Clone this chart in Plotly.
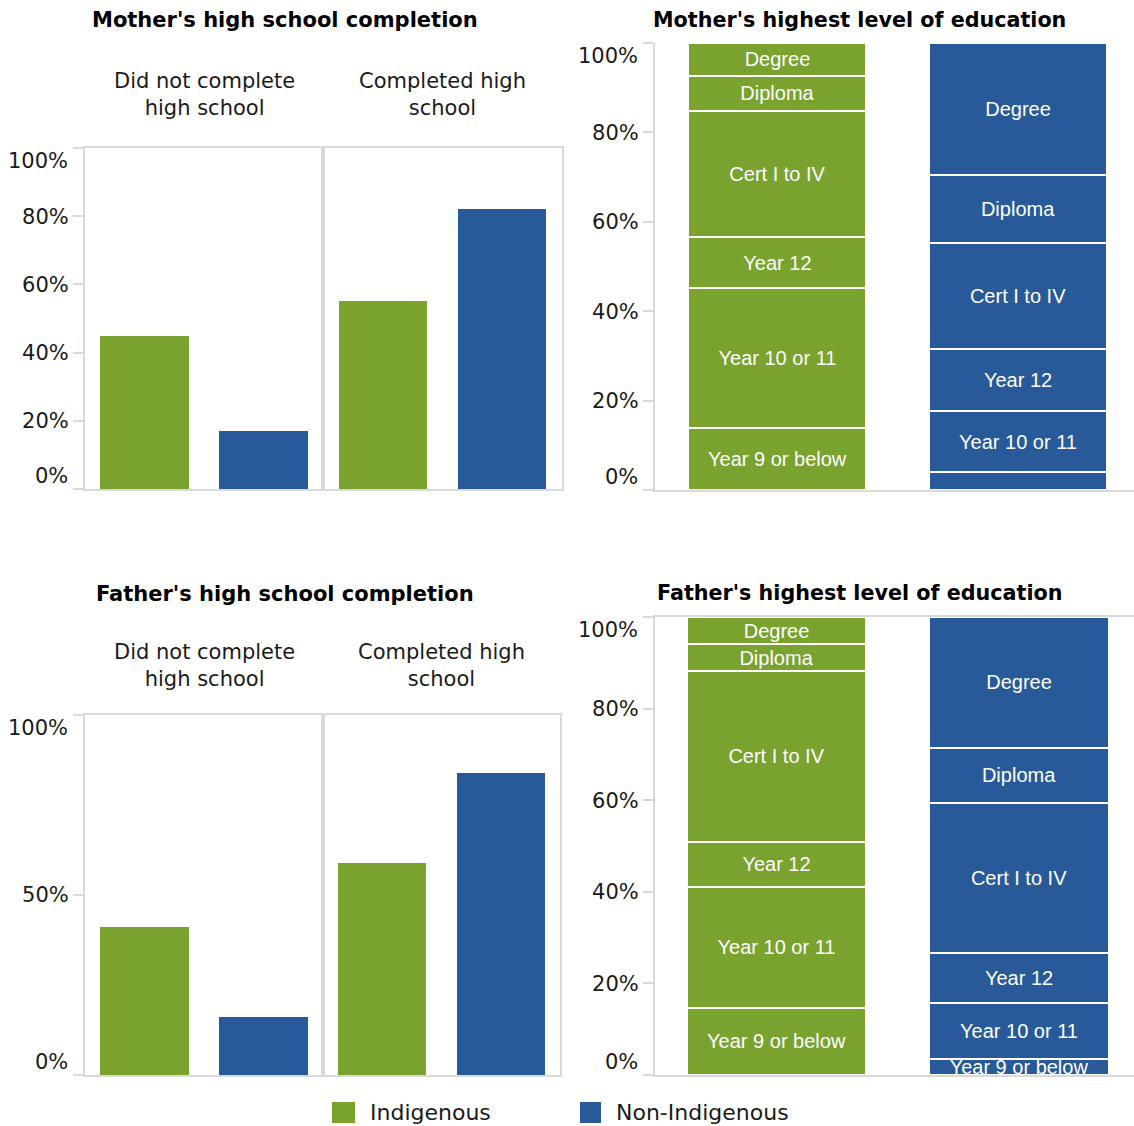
import plotly.graph_objects as go

W, H = 1134, 1126

# ---- data -------------------------------------------------------------
GROUPS = ["Indigenous", "Non-Indigenous"]
GROUP_COLORS = ["#79a22f", "#285a99"]

COMPLETION_FACETS = ["Did not complete<br>high school", "Completed high<br>school"]
# share (%) of each group, per facet: [did not complete, completed]
MOTHER_COMPLETION_INDIG = [45, 55]
MOTHER_COMPLETION_NONINDIG = [17, 82]
FATHER_COMPLETION_INDIG = [41, 59]
FATHER_COMPLETION_NONINDIG = [16, 84]

LEVELS = ["Year 9 or below", "Year 10 or 11", "Year 12", "Cert I to IV", "Diploma", "Degree"]
MOTHER_LEVEL_INDIG = [13.8, 31.4, 11.3, 28.4, 7.8, 7.3]
MOTHER_LEVEL_NONINDIG = [4.0, 13.7, 13.8, 23.8, 15.1, 29.6]
FATHER_LEVEL_INDIG = [14.7, 26.4, 9.8, 37.3, 5.9, 5.9]
FATHER_LEVEL_NONINDIG = [3.6, 12.2, 10.9, 32.6, 12.2, 28.5]

# segment captions (blank where the segment is too thin to carry one)
MOTHER_TEXT_INDIG = LEVELS
MOTHER_TEXT_NONINDIG = [""] + LEVELS[1:]
FATHER_TEXT_INDIG = LEVELS
FATHER_TEXT_NONINDIG = LEVELS

COMPLETION_TICKS = [[0, 20, 40, 60, 80, 100], [0, 50, 100]]
LEVEL_TICKS = [0, 20, 40, 60, 80, 100]

# ---- styling helpers ---------------------------------------------------
LINE = "#d9d9d9"
TXT = "#1a1a1a"
TICK_FONT = dict(family="DejaVu Sans", size=21, color=TXT)
BAR_FONT = dict(family="Liberation Sans, Arial", size=20, color="white")
TICKLEN = 10
RIGHT_AXIS_PX = 655


def px_x(p):
    return p / W


def px_y(p):
    return 1 - p / H


def y_axis(top, bottom, ticks, labels=True, mirror=False):
    mids = ticks[1:-1]
    return dict(
        domain=[px_y(bottom), px_y(top)], range=[0, 100],
        showline=True, linecolor=LINE, linewidth=2, mirror=mirror,
        showgrid=False, zeroline=False,
        ticks="outside" if labels else "", ticklen=TICKLEN, tickcolor=LINE, tickwidth=2,
        tickvals=ticks if labels else [],
        ticktext=[""] + [f"{t}%" for t in mids] + [""] if labels else [],
        tickfont=TICK_FONT, showticklabels=labels, fixedrange=True,
    )


def x_axis(left, right, rng, anchor, mirror=False):
    return dict(
        domain=[px_x(left), px_x(right)], type="category", range=rng,
        showline=True, linecolor=LINE, linewidth=2, mirror=mirror,
        showgrid=False, zeroline=False, ticks="", showticklabels=False,
        anchor=anchor, fixedrange=True,
    )


fig = go.Figure()
annotations = []


def end_labels(yref, left_px, ticks):
    # the 0% and 100% labels sit just inside the plot area
    for val, shift in ((ticks[0], 13), (ticks[-1], -13)):
        annotations.append(dict(
            x=px_x(left_px - TICKLEN - 5), xref="paper", xanchor="right",
            y=val, yref=yref, yanchor="middle", yshift=shift,
            text=f"{val}%", showarrow=False, font=TICK_FONT))


def completion_panel(indig, nonindig, axes, ticks, head_y, title, title_y, facet_px):
    for i, (xa, ya) in enumerate(axes):
        for g, vals, col in ((GROUPS[0], indig, GROUP_COLORS[0]), (GROUPS[1], nonindig, GROUP_COLORS[1])):
            fig.add_trace(go.Bar(
                x=[g], y=[vals[i]], name=g, marker=dict(color=col, line=dict(width=0)),
                xaxis=xa, yaxis=ya,
                hovertemplate=f"{COMPLETION_FACETS[i].replace('<br>', ' ')}<br>{g}: %{{y}}%<extra></extra>"))
        left, right = facet_px[i]
        annotations.append(dict(
            x=px_x((left + right) / 2), xref="paper", y=px_y(head_y), yref="paper",
            xanchor="center", yanchor="middle", text=COMPLETION_FACETS[i], showarrow=False,
            font=dict(family="DejaVu Sans", size=21, color=TXT)))
    annotations.append(dict(
        x=px_x(285), xref="paper", y=px_y(title_y), yref="paper", xanchor="center", yanchor="middle",
        text=f"<b>{title}</b>", showarrow=False, font=dict(family="DejaVu Sans", size=21, color="black")))
    end_labels(axes[0][1], facet_px[0][0], ticks)


def level_panel(indig, nonindig, text_i, text_n, xa, ya, title, title_y):
    for k, lvl in enumerate(LEVELS):
        fig.add_trace(go.Bar(
            x=GROUPS, y=[indig[k], nonindig[k]], name=lvl,
            marker=dict(color=GROUP_COLORS, line=dict(color="white", width=2)),
            text=[text_i[k], text_n[k]], textposition="inside", insidetextanchor="middle",
            textangle=0, constraintext="none", textfont=BAR_FONT, insidetextfont=BAR_FONT,
            xaxis=xa, yaxis=ya,
            hovertemplate="%{x}<br>" + lvl + ": %{y}%<extra></extra>"))
    annotations.append(dict(
        x=px_x(859), xref="paper", y=px_y(title_y), yref="paper", xanchor="center", yanchor="middle",
        text=f"<b>{title}</b>", showarrow=False, font=dict(family="DejaVu Sans", size=20.7, color="black")))
    end_labels(ya, RIGHT_AXIS_PX, LEVEL_TICKS)


# Mother's high school completion (top left)
completion_panel(MOTHER_COMPLETION_INDIG, MOTHER_COMPLETION_NONINDIG,
                 [("x", "y"), ("x2", "y2")], COMPLETION_TICKS[0], 94.5,
                 "Mother's high school completion", 20, [(85, 323), (323, 562)])
# Mother's highest level of education (top right)
level_panel(MOTHER_LEVEL_INDIG, MOTHER_LEVEL_NONINDIG, MOTHER_TEXT_INDIG, MOTHER_TEXT_NONINDIG,
            "x3", "y3", "Mother's highest level of education", 20)
# Father's high school completion (bottom left)
completion_panel(FATHER_COMPLETION_INDIG, FATHER_COMPLETION_NONINDIG,
                 [("x4", "y4"), ("x5", "y5")], COMPLETION_TICKS[1], 665,
                 "Father's high school completion", 594, [(85, 323), (323, 560)])
# Father's highest level of education (bottom right)
level_panel(FATHER_LEVEL_INDIG, FATHER_LEVEL_NONINDIG, FATHER_TEXT_INDIG, FATHER_TEXT_NONINDIG,
            "x6", "y6", "Father's highest level of education", 593)

# legend drawn as swatches + labels along the bottom
shapes = []
for (x0, x1, tx), g, col in zip(((332, 355, 368), (580, 601, 614)), GROUPS, GROUP_COLORS):
    shapes.append(dict(type="rect", xref="paper", yref="paper", x0=px_x(x0), x1=px_x(x1),
                       y0=px_y(1123), y1=px_y(1102), fillcolor=col, line=dict(width=0)))
    annotations.append(dict(x=px_x(tx), xref="paper", y=px_y(1112.5), yref="paper",
                            xanchor="left", yanchor="middle", text=g, showarrow=False,
                            font=dict(family="DejaVu Sans", size=22, color=TXT)))

fig.update_layout(
    width=W, height=H, margin=dict(l=0, r=0, t=0, b=0),
    paper_bgcolor="white", plot_bgcolor="white",
    barmode="stack", bargap=0.26, showlegend=False,
    xaxis=x_axis(85, 323, [-0.5, 1.5], "y", mirror=True),
    yaxis=y_axis(148, 489, COMPLETION_TICKS[0], mirror=True),
    xaxis2=x_axis(323, 562, [-0.5, 1.5], "y2", mirror=True),
    yaxis2={**y_axis(148, 489, COMPLETION_TICKS[0], labels=False, mirror=True), "anchor": "x2"},
    xaxis3=x_axis(RIGHT_AXIS_PX, 1134, [-0.509, 1.482], "y3"),
    yaxis3={**y_axis(43, 490, LEVEL_TICKS), "anchor": "x3"},
    xaxis4=x_axis(85, 323, [-0.5, 1.5], "y4", mirror=True),
    yaxis4={**y_axis(715, 1075, COMPLETION_TICKS[1], mirror=True), "anchor": "x4"},
    xaxis5=x_axis(323, 560, [-0.5, 1.5], "y5", mirror=True),
    yaxis5={**y_axis(715, 1075, COMPLETION_TICKS[1], labels=False, mirror=True), "anchor": "x5"},
    xaxis6=x_axis(RIGHT_AXIS_PX, 1134, [-0.501, 1.474], "y6", mirror=True),
    yaxis6={**y_axis(617, 1075, LEVEL_TICKS), "anchor": "x6"},
    annotations=annotations, shapes=shapes,
)

fig.write_html("out.html")
